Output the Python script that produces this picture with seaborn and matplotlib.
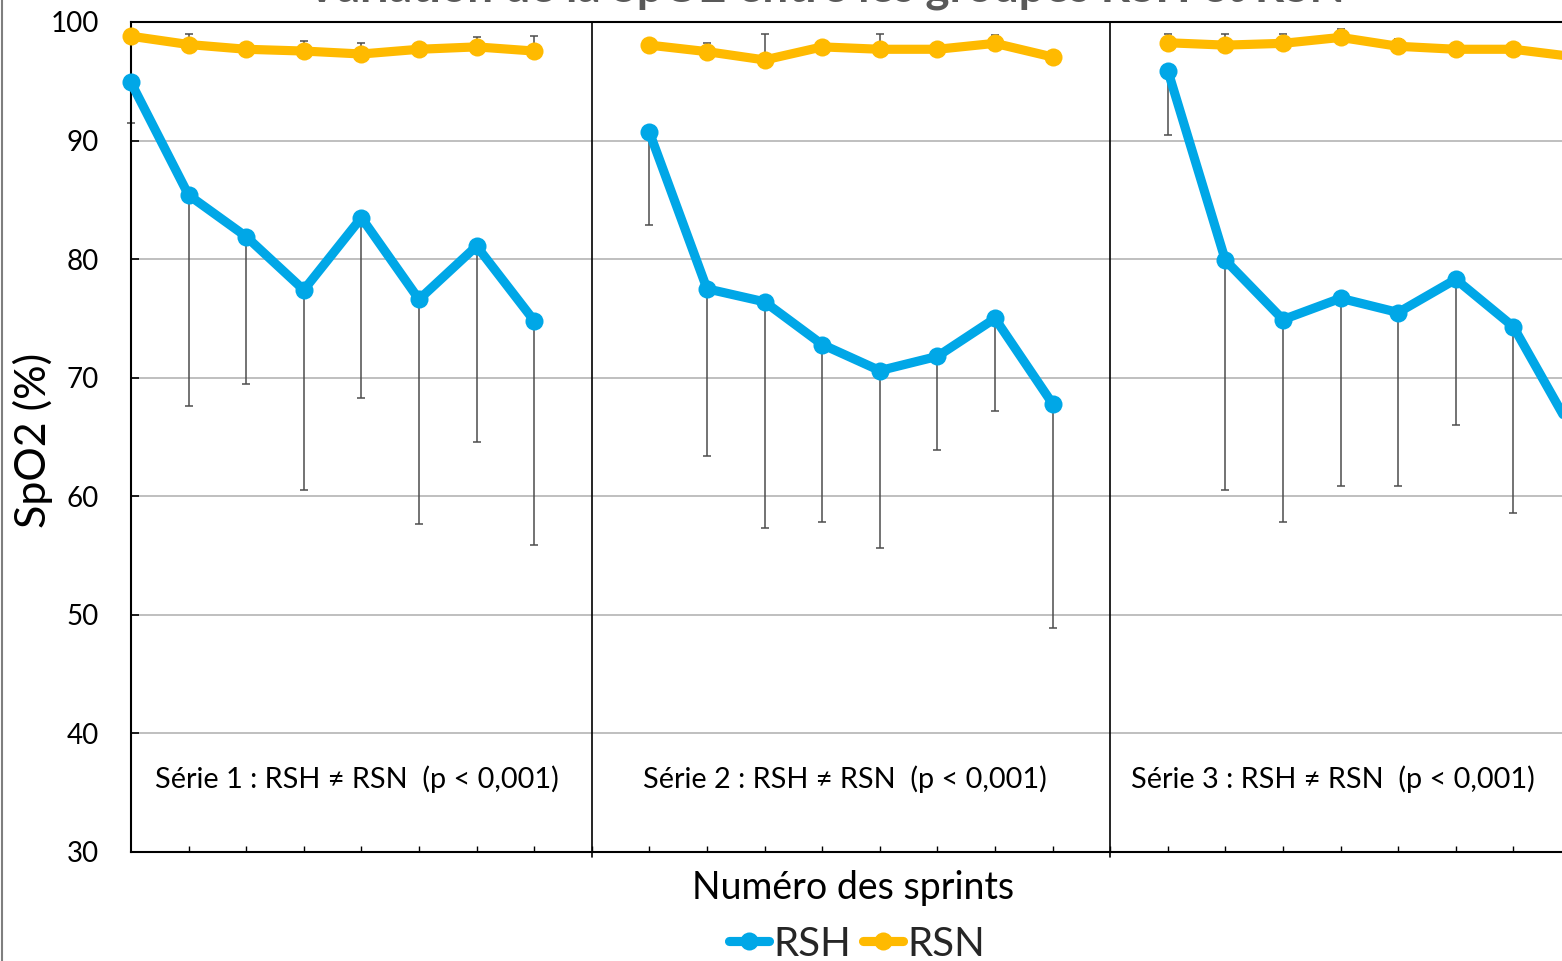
import matplotlib
matplotlib.use("Agg")
import matplotlib.pyplot as plt
from matplotlib.lines import Line2D
import numpy as np
import pandas as pd
import seaborn as sns

# Sprint numbers within each series and series names
sprints = [1, 2, 3, 4, 5, 6, 7, 8]
series_names = ["Série 1", "Série 2", "Série 3"]
groups = ["RSH", "RSN"]

# Mean SpO2 (%) per sprint, hypoxic group (RSH)
rsh_s1 = [94.9, 85.4, 81.9, 77.4, 83.5, 76.6, 81.1, 74.8]
rsh_s2 = [90.7, 77.5, 76.4, 72.8, 70.6, 71.8, 75.0, 67.8]
rsh_s3 = [95.9, 79.9, 74.9, 76.7, 75.5, 78.3, 74.3, 65.7]
# Standard deviations, hypoxic group
rsh_sd_s1 = [3.4, 17.8, 12.4, 16.9, 15.2, 18.9, 16.5, 18.9]
rsh_sd_s2 = [7.8, 14.1, 19.1, 15.0, 15.0, 7.9, 7.8, 18.9]
rsh_sd_s3 = [5.45, 19.4, 17.1, 15.8, 14.6, 12.3, 15.7, 17.7]

# Mean SpO2 (%) per sprint, normoxic group (RSN)
rsn_s1 = [98.8, 98.1, 97.7, 97.55, 97.3, 97.7, 97.9, 97.55]
rsn_s2 = [98.05, 97.5, 96.8, 97.9, 97.7, 97.7, 98.2, 97.05]
rsn_s3 = [98.25, 98.05, 98.2, 98.7, 97.95, 97.7, 97.7, 97.1]
# Standard deviations, normoxic group
rsn_sd_s1 = [0.4, 0.9, 0.4, 0.85, 0.95, 0.4, 0.85, 1.25]
rsn_sd_s2 = [0.45, 0.7, 2.15, 0.4, 1.25, 0.4, 0.7, 0.4]
rsn_sd_s3 = [0.7, 0.9, 0.8, 0.75, 0.65, 0.4, 0.4, 0.4]

stat_labels = [
    "Série 1 : RSH ≠ RSN  (p < 0,001)",
    "Série 2 : RSH ≠ RSN  (p < 0,001)",
    "Série 3 : RSH ≠ RSN  (p < 0,001)",
]

y_ticks = [30, 40, 50, 60, 70, 80, 90, 100]

BLUE = "#00A7E7"
GOLD = "#FFBA00"
GREY_TXT = "#595959"
LW = 6.6
MS = 13

# Long-form table: each series occupies 8 slots, separated by one empty slot
rows = []
means = {"RSH": [rsh_s1, rsh_s2, rsh_s3], "RSN": [rsn_s1, rsn_s2, rsn_s3]}
sds = {"RSH": [rsh_sd_s1, rsh_sd_s2, rsh_sd_s3], "RSN": [rsn_sd_s1, rsn_sd_s2, rsn_sd_s3]}
for g in groups:
    for k, name in enumerate(series_names):
        for j, s in enumerate(sprints):
            rows.append({"groupe": g, "serie": name, "sprint": s,
                         "pos": k * 9 + (s - 1),
                         "spo2": means[g][k][j], "sd": sds[g][k][j]})
df = pd.DataFrame(rows)

sns.set_theme(style="white")
plt.rcParams["font.family"] = ["Lato", "DejaVu Sans"]

W, H = 1562, 961
fig = plt.figure(figsize=(W / 100, H / 100), dpi=100)
ax = fig.add_axes([131 / W, 1 - 852 / H, 1440 / W, 830 / H])

# error bars: hypoxic group downward, normoxic group upward
for g in groups:
    d = df[df["groupe"] == g]
    zeros = np.zeros(len(d))
    yerr = [d["sd"].values, zeros] if g == "RSH" else [zeros, d["sd"].values]
    eb = ax.errorbar(d["pos"], d["spo2"], yerr=yerr, fmt="none",
                     ecolor="#4D4D4D", elinewidth=1.1, capsize=3.2,
                     capthick=1.1, zorder=2)
    for art in eb.lines[1] + eb.lines[2]:
        art.set_clip_on(False)

sns.lineplot(data=df, x="pos", y="spo2", hue="groupe", units="serie",
             estimator=None, sort=False, palette={"RSH": BLUE, "RSN": GOLD},
             marker="o", markersize=MS, markeredgewidth=0, linewidth=LW,
             legend=False, ax=ax, zorder=3)
for ln in ax.lines:
    ln.set_clip_on(False)

ax.set_xlim(0, 25)
ax.set_ylim(30, 100)
ax.set_yticks(y_ticks)
ax.set_xticks(range(1, 26))
ax.set_xticklabels([])
ax.set_xlabel("")
ax.set_ylabel("")
ax.yaxis.grid(True, color="#BFBFBF", linewidth=1.4)
ax.xaxis.grid(False)
ax.set_axisbelow(True)

for side in ["left", "bottom", "top"]:
    ax.spines[side].set_color("black")
    ax.spines[side].set_linewidth(1.5)
ax.spines["right"].set_visible(False)

ax.tick_params(axis="y", direction="in", length=6, width=1.2, color="black",
               pad=23, labelsize=20, labelcolor="black", left=True)
ax.tick_params(axis="x", direction="in", length=4, width=1.0, color="black",
               bottom=True)

# separators between the three series
for xs in [8, 17]:
    ax.plot([xs, xs], [29.6, 100], color="black", lw=1.2, clip_on=False, zorder=1)

# statistical annotations
for xt, lab in zip([0.42, 8.89, 17.36], stat_labels):
    ax.text(xt, 36.1, lab, fontsize=20.8, ha="left", va="center", color="black")

fig.text(825 / W, 1 - 1.5 / H, "Variation de la SpO2 entre les groupes RSH et RSN",
         ha="center", va="baseline", fontsize=33, fontweight="bold", color=GREY_TXT)
fig.text(33 / W, 1 - 440 / H, "SpO2 (%)", rotation=90, fontsize=31,
         ha="center", va="center", color="black")
fig.text(853 / W, 1 - 888 / H, "Numéro des sprints", fontsize=27,
         ha="center", va="center", color="black")

handles = [Line2D([], [], color=BLUE, lw=LW, marker="o", markersize=MS, markeredgewidth=0),
           Line2D([], [], color=GOLD, lw=LW, marker="o", markersize=MS, markeredgewidth=0)]
fig.legend(handles, groups, loc="center", bbox_to_anchor=(857 / W, 1 - 944 / H),
           ncol=2, frameon=False, fontsize=29, handlelength=1.0, handletextpad=0.1,
           columnspacing=0.3, borderpad=0, borderaxespad=0)

fig.add_artist(Line2D([1.5 / W, 1.5 / W], [0, 1], transform=fig.transFigure,
                      color="#7F7F7F", lw=1.5))

fig.savefig("out.png", dpi=100)
